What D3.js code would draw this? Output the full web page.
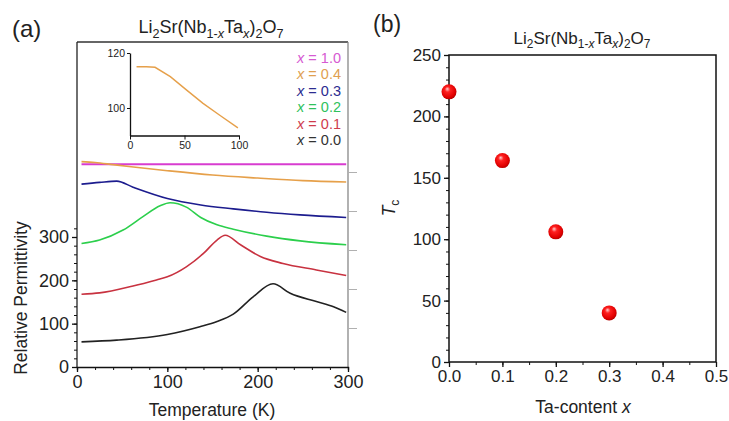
<!DOCTYPE html>
<html>
<head>
<meta charset="utf-8">
<script src="https://d3js.org/d3.v7.min.js"></script>
<style>
  body { margin:0; background:#fff; }
  svg { font-family: "Liberation Sans", Arial, sans-serif; }
  .axis path, .axis line { stroke:#111; }
  .axis text { fill:#222; }
</style>
</head>
<body>
<script>
// (a) relative permittivity vs temperature, one pair of arrays per composition
var t10 = [5, 298];
var eps10 = [468, 468];
var t04 = [5, 20, 40, 60, 100, 150, 200, 250, 298];
var eps04 = [474, 472, 467, 462, 453, 443, 436, 430, 427];
var t03 = [5, 25, 44, 62, 100, 137, 173, 210, 247, 298];
var eps03 = [422, 426, 429, 415, 389, 374, 365, 357, 351, 345];
var t02 = [5, 25, 51, 73, 92, 103, 121, 137, 155, 173, 210, 247, 298];
var eps02 = [285, 293, 316, 347, 372, 379, 369, 345, 328, 318, 302, 291, 282];
var t01 = [5, 25, 62, 88, 100, 121, 140, 155, 164, 181, 203, 228, 265, 298];
var eps01 = [168, 171, 187, 201, 208, 231, 262, 293, 304, 282, 255, 239, 224, 211];
var t00 = [5, 44, 100, 136, 155, 173, 195, 217, 236, 265, 284, 298];
var eps00 = [58, 62, 75, 93, 105, 122, 162, 192, 170, 151, 139, 126];

var compositions = ["1.0", "0.4", "0.3", "0.2", "0.1", "0.0"];
var lineColors = ["#d83cd0", "#e6a04a", "#1c1c8e", "#2ccf4c", "#c83240", "#222222"];
var legendColors = ["#d65ad2", "#e0a050", "#2c2c90", "#2fc25c", "#cf3c4c", "#333333"];

// inset: x = 0.4 at low temperature
var insetT = [6, 15, 23, 37, 52, 67, 83, 99];
var insetEps = [115, 115, 114.8, 111.4, 106.5, 101.7, 97.2, 92.8];

// (b) transition temperature vs Ta content
var taContent = [0.0, 0.1, 0.2, 0.3];
var tc = [220, 164, 106, 40];

var tempTicks = [0, 100, 200, 300];
var epsTicks = [0, 100, 200, 300];
var rightTicks = [90, 180, 270, 360, 450];
var taTicks = [0, 0.1, 0.2, 0.3, 0.4, 0.5];
var tcTicks = [0, 50, 100, 150, 200, 250];

var series = [
  [t10, eps10], [t04, eps04], [t03, eps03],
  [t02, eps02], [t01, eps01], [t00, eps00]
];

var svg = d3.select("body").append("svg")
    .attr("width", 729)
    .attr("height", 421);

// formula title with subscripts
function formula(x, y, size) {
  var parts = [
    {t:"Li"}, {t:"2", sub:1}, {t:"Sr(Nb"}, {t:"1-", sub:1}, {t:"x", sub:1, it:1},
    {t:"Ta"}, {t:"x", sub:1, it:1}, {t:")"}, {t:"2", sub:1}, {t:"O"}, {t:"7", sub:1}
  ];
  var txt = svg.append("text")
      .attr("x", x).attr("y", y)
      .attr("text-anchor", "middle")
      .attr("font-size", size)
      .attr("fill", "#222");
  var down = false;
  parts.forEach(function(p) {
    var ts = txt.append("tspan").text(p.t);
    var shift = size * 0.25;
    if (p.sub && !down) { ts.attr("dy", shift); down = true; }
    else if (!p.sub && down) { ts.attr("dy", -shift); down = false; }
    if (p.sub) ts.attr("font-size", size * 0.7);
    if (p.it) ts.attr("font-style", "italic");
  });
}

// ---------- panel (a) ----------
var xa = d3.scaleLinear().domain([0, 300]).range([77, 348]);
var ya = d3.scaleLinear().domain([0, 750]).range([367, 42]);

svg.append("text").attr("x", 12).attr("y", 37)
    .attr("font-size", 24).attr("fill", "#222").text("(a)");
formula(211, 33, 18);

// frame
svg.append("line").attr("x1", xa(0)).attr("x2", xa(300)).attr("y1", ya(750)).attr("y2", ya(750))
    .attr("stroke", "#333").attr("stroke-width", 1.3);
svg.append("line").attr("x1", xa(300)).attr("x2", xa(300)).attr("y1", ya(750)).attr("y2", ya(0))
    .attr("stroke", "#888").attr("stroke-width", 1.3);
svg.append("line").attr("x1", xa(0)).attr("x2", xa(0)).attr("y1", ya(750)).attr("y2", ya(0))
    .attr("stroke", "#222").attr("stroke-width", 1.3);

// grey ticks on the right edge
svg.append("g")
    .attr("transform", "translate(" + xa(300) + ",0)")
    .call(d3.axisRight(ya).tickValues(rightTicks).tickSize(9).tickFormat(""))
    .call(function(g) {
      g.select(".domain").remove();
      g.selectAll("line").attr("stroke", "#b0b0b0");
    });

// x axis
svg.append("g").attr("class", "axis")
    .attr("transform", "translate(0," + ya(0) + ")")
    .call(d3.axisBottom(xa).tickValues(d3.range(0, 301, 20)).tickSize(3).tickFormat(""))
    .call(function(g) { g.select(".domain").attr("stroke-width", 1.3); });
svg.append("g").attr("class", "axis")
    .attr("transform", "translate(0," + ya(0) + ")")
    .call(d3.axisBottom(xa).tickValues(tempTicks).tickSize(5).tickPadding(3))
    .call(function(g) {
      g.select(".domain").remove();
      g.selectAll("line").attr("stroke-width", 1.3);
      g.selectAll("text").attr("font-size", 18).attr("font-family", "Liberation Sans, Arial");
    });

// y axis
svg.append("g").attr("class", "axis")
    .attr("transform", "translate(" + xa(0) + ",0)")
    .call(d3.axisLeft(ya).tickValues(d3.range(0, 321, 20)).tickSize(3).tickFormat(""))
    .call(function(g) { g.select(".domain").remove(); });
svg.append("g").attr("class", "axis")
    .attr("transform", "translate(" + xa(0) + ",0)")
    .call(d3.axisLeft(ya).tickValues(epsTicks).tickSize(5).tickPadding(3))
    .call(function(g) {
      g.select(".domain").remove();
      g.selectAll("line").attr("stroke-width", 1.3);
      g.selectAll("text").attr("font-size", 18).attr("font-family", "Liberation Sans, Arial");
    });

svg.append("text")
    .attr("x", 212).attr("y", 416)
    .attr("text-anchor", "middle").attr("font-size", 17.5).attr("fill", "#222")
    .text("Temperature (K)");
svg.append("text")
    .attr("transform", "translate(27,298) rotate(-90)")
    .attr("text-anchor", "middle").attr("font-size", 17.5).attr("fill", "#222")
    .text("Relative Permittivity");

// curves
var lineA = d3.line()
    .x(function(d) { return xa(d[0]); })
    .y(function(d) { return ya(d[1]); })
    .curve(d3.curveMonotoneX);

series.forEach(function(s, i) {
  var pts = s[0].map(function(t, j) { return [t, s[1][j]]; });
  svg.append("path")
      .datum(pts)
      .attr("fill", "none")
      .attr("stroke", lineColors[i])
      .attr("stroke-width", i === 0 ? 2 : 1.6)
      .attr("d", lineA);
});

// legend
var legend = svg.append("g");
compositions.forEach(function(c, i) {
  var t = legend.append("text")
      .attr("x", 341).attr("y", 63 + i * 16.4)
      .attr("text-anchor", "end")
      .attr("font-size", 14.5)
      .attr("fill", legendColors[i]);
  t.append("tspan").attr("font-style", "italic").text("x");
  t.append("tspan").text(" = " + c);
});

// inset
var xi = d3.scaleLinear().domain([0, 100]).range([130, 239]);
var yi = d3.scaleLinear().domain([90, 120]).range([135.5, 53]);

svg.append("g").attr("class", "axis")
    .attr("transform", "translate(0," + yi(90) + ")")
    .call(d3.axisBottom(xi).tickValues([0, 50, 100]).tickSize(4).tickSizeOuter(0).tickPadding(2))
    .call(function(g) {
      g.select(".domain").attr("stroke-width", 1.3);
      g.selectAll("text").attr("font-size", 10.5).attr("fill", "#555");
    });
svg.append("g").attr("class", "axis")
    .attr("transform", "translate(" + xi(0) + ",0)")
    .call(d3.axisLeft(yi).tickValues([100, 120]).tickSize(3).tickSizeOuter(0).tickPadding(2))
    .call(function(g) {
      g.select(".domain").attr("stroke-width", 1.3);
      g.selectAll("text").attr("font-size", 10.5).attr("fill", "#555");
    });

var lineI = d3.line()
    .x(function(d) { return xi(d[0]); })
    .y(function(d) { return yi(d[1]); });
svg.append("path")
    .datum(insetT.map(function(t, j) { return [t, insetEps[j]]; }))
    .attr("fill", "none")
    .attr("stroke", "#e6a04a")
    .attr("stroke-width", 1.4)
    .attr("d", lineI);

// ---------- panel (b) ----------
var xb = d3.scaleLinear().domain([0, 0.5]).range([449, 716]);
var yb = d3.scaleLinear().domain([0, 250]).range([362, 55]);

svg.append("text").attr("x", 373).attr("y", 32)
    .attr("font-size", 23).attr("fill", "#222").text("(b)");
formula(582, 44, 17);

svg.append("g").attr("class", "axis")
    .attr("transform", "translate(0," + yb(0) + ")")
    .call(d3.axisBottom(xb).tickValues(d3.range(0, 0.51, 0.05)).tickSize(3).tickFormat(""))
    .call(function(g) { g.select(".domain").remove(); });
svg.append("g").attr("class", "axis")
    .attr("transform", "translate(0," + yb(0) + ")")
    .call(d3.axisBottom(xb).tickValues(taTicks).tickSize(5).tickPadding(3).tickFormat(d3.format(".1f")))
    .call(function(g) {
      g.select(".domain").remove();
      g.selectAll("line").attr("stroke-width", 1.3);
      g.selectAll("text").attr("font-size", 17);
    });
svg.append("g").attr("class", "axis")
    .attr("transform", "translate(" + xb(0) + ",0)")
    .call(d3.axisLeft(yb).tickValues(d3.range(0, 251, 10)).tickSize(3).tickFormat(""))
    .call(function(g) { g.select(".domain").remove(); });
svg.append("g").attr("class", "axis")
    .attr("transform", "translate(" + xb(0) + ",0)")
    .call(d3.axisLeft(yb).tickValues(tcTicks).tickSize(5).tickPadding(3))
    .call(function(g) {
      g.select(".domain").remove();
      g.selectAll("line").attr("stroke-width", 1.3);
      g.selectAll("text").attr("font-size", 17);
    });

svg.append("rect")
    .attr("x", xb(0)).attr("y", yb(250))
    .attr("width", xb(0.5) - xb(0)).attr("height", yb(0) - yb(250))
    .attr("fill", "none").attr("stroke", "#111").attr("stroke-width", 1.5);

var xl = svg.append("text")
    .attr("x", 583).attr("y", 413)
    .attr("text-anchor", "middle").attr("font-size", 17.5).attr("fill", "#222");
xl.append("tspan").text("Ta-content ");
xl.append("tspan").attr("font-style", "italic").text("x");

var yl = svg.append("text")
    .attr("transform", "translate(395,208) rotate(-90)")
    .attr("text-anchor", "middle").attr("font-size", 17.5).attr("fill", "#222");
yl.append("tspan").attr("font-style", "italic").text("T");
yl.append("tspan").attr("font-size", 12).attr("dy", 4).text("c");

// shaded red spheres
var grad = svg.append("defs").append("radialGradient")
    .attr("id", "ball")
    .attr("cx", "45%").attr("cy", "42%").attr("r", "60%")
    .attr("fx", "38%").attr("fy", "30%");
grad.append("stop").attr("offset", "0%").attr("stop-color", "#ffd0d0");
grad.append("stop").attr("offset", "30%").attr("stop-color", "#ff2020");
grad.append("stop").attr("offset", "80%").attr("stop-color", "#e00000");
grad.append("stop").attr("offset", "100%").attr("stop-color", "#b00000");

svg.append("g").selectAll("circle")
    .data(taContent)
    .join("circle")
    .attr("cx", function(d) { return xb(d); })
    .attr("cy", function(d, i) { return yb(tc[i]); })
    .attr("r", 7.5)
    .attr("fill", "url(#ball)");
</script>
</body>
</html>
